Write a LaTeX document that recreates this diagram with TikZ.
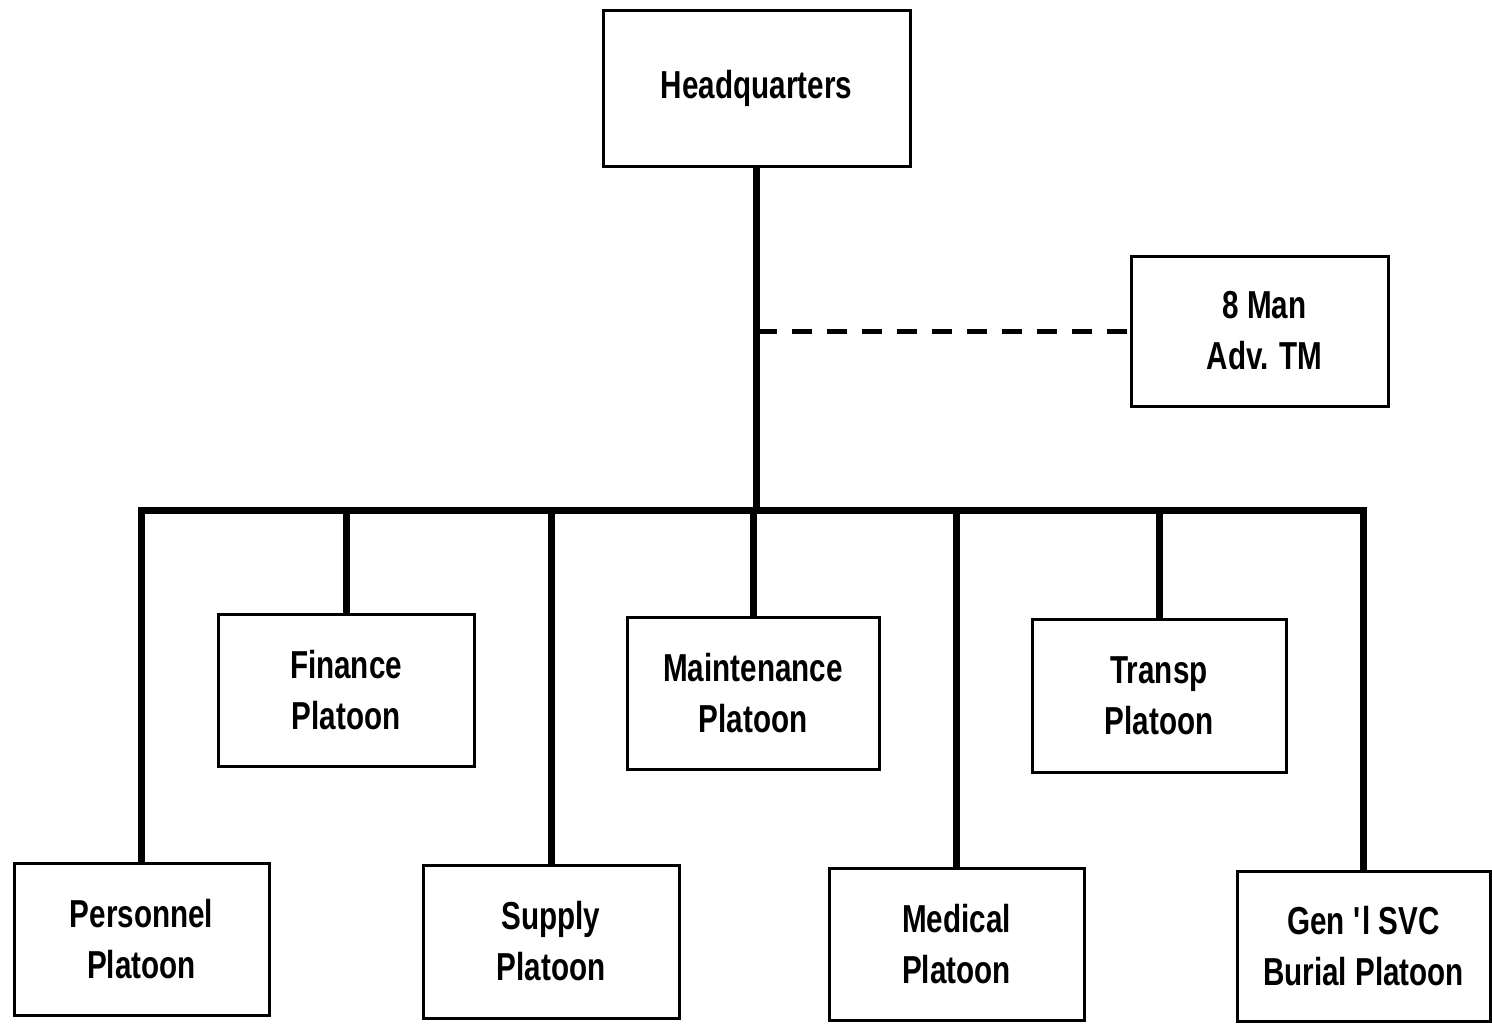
\documentclass[tikz,border=0pt]{standalone}
\usepackage{fontspec}
\setmainfont{Liberation Sans}[FakeStretch=0.76]
\begin{document}
\begin{tikzpicture}[x=0.5pt,y=-0.5pt,
  unit/.style={draw,line width=1.5pt,rectangle,inner sep=0pt,align=center,
    font=\fontsize{19.5}{25.5}\selectfont\bfseries},
  link/.style={line width=3.5pt},
  dlink/.style={line width=2.5pt,dash pattern=on 10pt off 7.5pt}]
\useasboundingbox (0,0) rectangle (1492,1023);
\node[unit,minimum width=153.5pt,minimum height=78pt] (hq) at (756.5,88) {Headquarters};
\node[unit,minimum width=128.5pt,minimum height=75pt] (adv) at (1259.5,331) {\hspace*{5pt}8 Man\\\hspace*{5pt}Adv. TM};
\node[unit,minimum width=127.5pt,minimum height=76pt] (pers) at (141.5,939) {Personnel\\Platoon};
\node[unit,minimum width=128pt,minimum height=76pt] (fin) at (346,690) {Finance\\Platoon};
\node[unit,minimum width=128pt,minimum height=76.5pt] (sup) at (551,941.5) {Supply\\Platoon};
\node[unit,minimum width=126pt,minimum height=76pt] (maint) at (753,693) {Maintenance\\Platoon};
\node[unit,minimum width=127.5pt,minimum height=76pt] (med) at (956.5,944) {Medical\\Platoon};
\node[unit,minimum width=127pt,minimum height=76.5pt] (tra) at (1159,695.5) {Transp\\Platoon};
\node[unit,minimum width=126.5pt,minimum height=75pt] (gen) at (1363.5,946) {Gen \textquotesingle l SVC\\Burial Platoon};
\coordinate (bary) at (0,510);
\draw[link] (hq.south) -- (hq.south |- bary);
\draw[link] (pers.north) |- (gen.north |- bary) -- (gen.north);
\draw[link] (fin.north |- bary) -- (fin.north);
\draw[link] (sup.north |- bary) -- (sup.north);
\draw[link] (maint.north |- bary) -- (maint.north);
\draw[link] (med.north |- bary) -- (med.north);
\draw[link] (tra.north |- bary) -- (tra.north);
\draw[dlink] (hq.south |- adv.west) -- (adv.west);
\end{tikzpicture}
\end{document}
